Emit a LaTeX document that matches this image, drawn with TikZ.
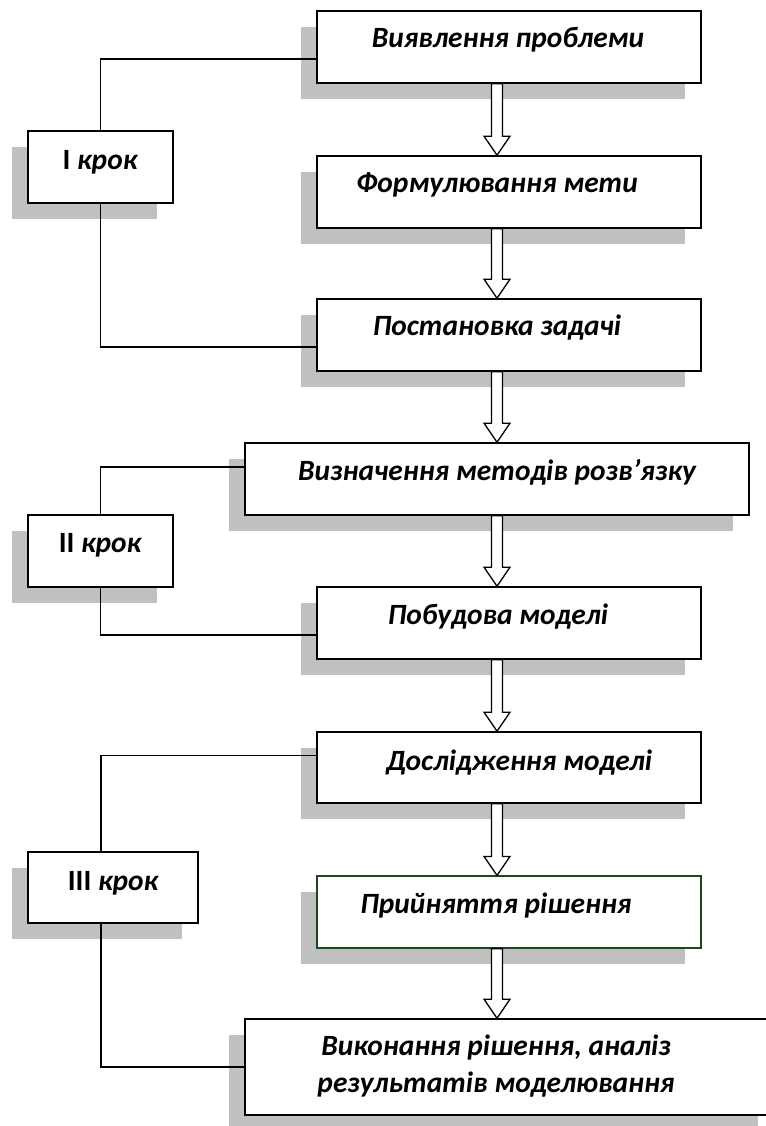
\documentclass[tikz,border=0pt]{standalone}
\usepackage{fontspec}
\setmainfont{Carlito}
\usetikzlibrary{calc,shadows}

\definecolor{shadowgrey}{RGB}{192,192,192}
\definecolor{darkleaf}{RGB}{30,72,30}

\tikzset{
  stage/.style={draw=black, line width=1.6pt, fill=white, inner sep=0pt,
    general shadow={fill=shadowgrey, shadow xshift=-16pt, shadow yshift=-16pt}},
  wide/.style={minimum width=384pt, minimum height=72pt},
  stepbox/.style={stage, minimum width=145pt, minimum height=72pt},
  caption/.style={font=\fontsize{29.4}{37}\selectfont\bfseries\itshape, align=center, inner sep=0pt},
  link/.style={line width=1.2pt},
  hollow/.style={draw=black, line width=1.3pt, fill=white, line join=miter},
}

% hollow block arrow from the bottom of one box to the top of the next
\newcommand{\blockdown}[2]{%
  \draw[hollow] let \p1=(#1.south), \p2=(#2.north) in
    (491.5pt,\y1) -- (502.5pt,\y1) -- (502.5pt,\y2+19pt) -- (510pt,\y2+19pt)
    -- (497pt,\y2) -- (484pt,\y2+19pt) -- (491.5pt,\y2+19pt) -- cycle;}

\begin{document}
\begin{tikzpicture}[x=1pt, y=-1pt]
\useasboundingbox (0,0) rectangle (765,1126);

% main sequence of stages
\node[stage, wide] (b1) at (509,47) {};
\node[stage, wide] (b2) at (509,192) {};
\node[stage, wide] (b3) at (509,335) {};
\node[stage, minimum width=504pt, minimum height=72pt] (b4) at (497,479) {};
\node[stage, wide] (b5) at (509,623) {};
\node[stage, wide, minimum height=71pt] (b6) at (509,767.5) {};
\node[stage, wide, draw=darkleaf, line width=1.2pt] (b7) at (509,912) {};
\node[stage, minimum width=529pt, minimum height=96pt] (b8) at (509.5,1067) {};

% step boxes on the left
\node[stepbox] (s1) at (100.5,167) {};
\node[stepbox] (s2) at (100.5,551) {};
\node[stepbox, minimum width=170pt, minimum height=71pt] (s3) at (113,887.5) {};

% texts
\node[caption] (t1) at (508,40) {Виявлення проблеми};
\node[caption] (t2) at (497,185) {Формулювання мети};
\node[caption] (t3) at (497,328) {Постановка задачі};
\node[caption] (t4) at (497,472) {Визначення методів розв’язку};
\node[caption] (t5) at (498,617) {Побудова моделі};
\node[caption] (t6) at (519,763) {Дослідження моделі};
\node[caption] (t7) at (496,905) {Прийняття рішення};
\node[caption] (t8) at (496,1066) {Виконання рішення, аналіз\\результатів моделювання};
\node[caption] (k1) at (100,162) {\upshape I \itshape крок};
\node[caption] (k2) at (100,545) {\upshape II \itshape крок};
\node[caption] (k3) at (113,883) {\upshape III \itshape крок};

% flow arrows
\blockdown{b1}{b2}
\blockdown{b2}{b3}
\blockdown{b3}{b4}
\blockdown{b4}{b5}
\blockdown{b5}{b6}
\blockdown{b6}{b7}
\blockdown{b7}{b8}

% brackets joining each step to its stages
\draw[link] (s1.north) |- ([yshift=-12pt]b1.west);
\draw[link] (s1.south) |- ([yshift=-12pt]b3.west);
\draw[link] (s2.north) |- ([yshift=12pt]b4.west);
\draw[link] (s2.south) |- ([yshift=-12pt]b5.west);
\draw[link] ([xshift=-12pt]s3.north) |- ([yshift=12pt]b6.west);
\draw[link] ([xshift=-12pt]s3.south) |- (b8.west);
\end{tikzpicture}
\end{document}
